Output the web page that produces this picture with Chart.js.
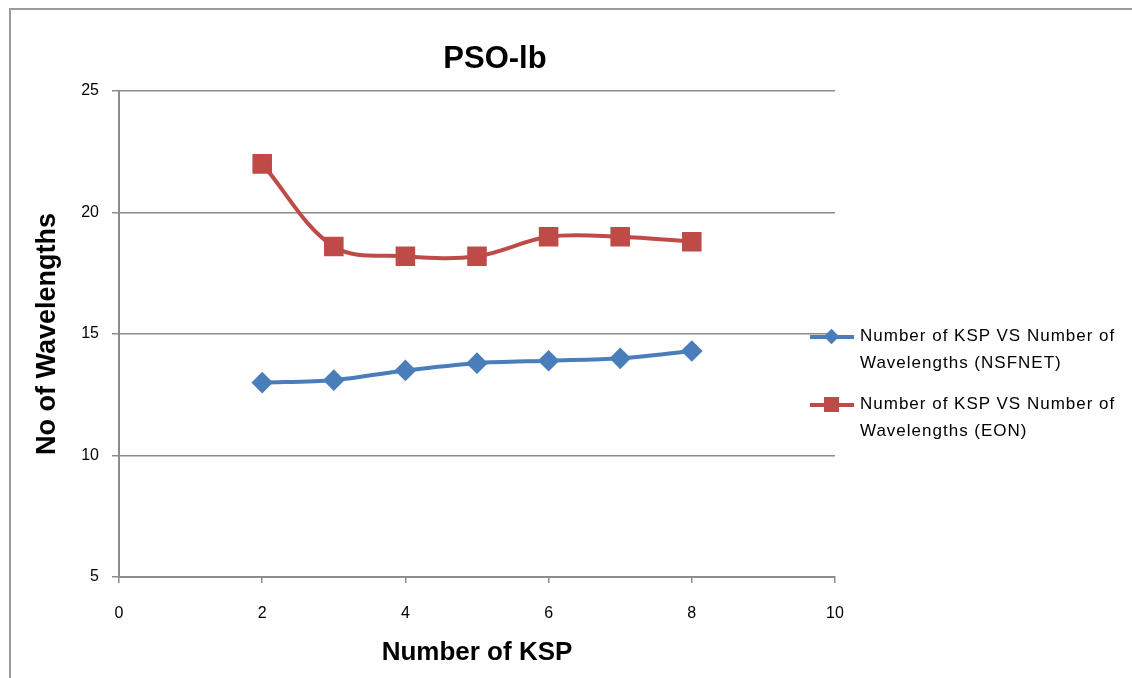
<!DOCTYPE html>
<html>
<head>
<meta charset="utf-8">
<script src="https://cdn.jsdelivr.net/npm/chart.js@4"></script>
<style>
  html, body { margin:0; padding:0; background:#fff; }
  body { width:1132px; height:678px; position:relative; overflow:hidden; font-family:"Liberation Sans", Arial, sans-serif; }
  #frame { position:absolute; left:9px; top:8px; width:1200px; height:800px; border:2px solid #9a9a9a; box-sizing:border-box; }
  #wrap { position:absolute; left:0; top:0; width:1132px; height:678px; }
  #title { position:absolute; left:395px; width:200px; top:38px; text-align:center; font-size:31px; font-weight:bold; color:#000; line-height:40px; }
  #legend { position:absolute; left:810px; top:322px; font-size:17px; color:#000; }
  .item { position:relative; height:68px; }
  .sample { position:absolute; left:0; width:44px; height:4px; top:13px; }
  .txt { position:absolute; left:50px; top:0; line-height:27px; white-space:nowrap; letter-spacing:1px; }
  .mk { position:absolute; }
</style>
</head>
<body>
<div id="frame"></div>
<div id="wrap"><canvas id="c" width="1132" height="678"></canvas></div>
<div id="title"></div>
<div id="legend"></div>
<script>
const xValues = [2, 3, 4, 5, 6, 7, 8];
const nsfnet = [13.0, 13.1, 13.5, 13.8, 13.9, 14.0, 14.3];
const eon = [22.0, 18.6, 18.2, 18.2, 19.0, 19.0, 18.8];
const seriesNames = [
  ["Number of KSP VS Number of", "Wavelengths (NSFNET)"],
  ["Number of KSP VS Number of", "Wavelengths (EON)"]
];
const xTicks = [0, 2, 4, 6, 8, 10];
const yTicks = [5, 10, 15, 20, 25];
const chartTitle = "PSO-lb";
const xTitle = "Number of KSP";
const yTitle = "No of Wavelengths";

const blue = "#4A7EBB", red = "#BE4B48", grid = "#8c8c8c";
const toPts = arr => arr.map((v, i) => ({x: xValues[i], y: v}));

document.getElementById("title").textContent = chartTitle;

new Chart(document.getElementById("c"), {
  type: "line",
  data: {
    datasets: [
      { label: seriesNames[0].join(" "), data: toPts(nsfnet), borderColor: blue, backgroundColor: blue,
        borderWidth: 4, pointStyle: "rectRot", pointRadius: 8, pointHoverRadius: 8, tension: 0.3 },
      { label: seriesNames[1].join(" "), data: toPts(eon), borderColor: red, backgroundColor: red,
        borderWidth: 4, pointStyle: "rect", pointRadius: 11, pointHoverRadius: 11, tension: 0.35 }
    ]
  },
  options: {
    responsive: false,
    animation: false,
    events: [],
    layout: { padding: { left: 31, right: 297, top: 91, bottom: 10 } },
    plugins: {
      legend: { display: false },
      tooltip: { enabled: false },
      title: { display: false }
    },
    scales: {
      x: {
        type: "linear", min: 0, max: 10,
        afterBuildTicks: s => { s.ticks = xTicks.map(v => ({value: v})); },
        afterFit: s => { s.height = 91; },
        ticks: { color: "#000", font: { family: "Liberation Sans", size: 16 }, padding: 21, maxRotation: 0 },
        grid: { drawOnChartArea: false, drawTicks: true, tickLength: 6, color: grid, lineWidth: 1.5 },
        border: { display: true, color: grid, width: 2 },
        title: { display: true, text: xTitle, color: "#000",
          font: { family: "Liberation Sans", size: 26, weight: "bold" }, padding: { top: 0, bottom: 0 } }
      },
      y: {
        type: "linear", min: 5, max: 25,
        afterBuildTicks: s => { s.ticks = yTicks.map(v => ({value: v})); },
        afterFit: s => { s.width = 88; },
        ticks: { color: "#000", font: { family: "Liberation Sans", size: 16 }, padding: 13 },
        grid: { drawOnChartArea: true, drawTicks: true, tickLength: 7, color: grid, lineWidth: 1.5 },
        border: { display: true, color: grid, width: 2 },
        title: { display: true, text: yTitle, color: "#000",
          font: { family: "Liberation Sans", size: 27, weight: "bold" }, padding: 0 }
      }
    }
  }
});

// HTML legend
const leg = document.getElementById("legend");
const legendDefs = [{c: blue, shape: "diamond"}, {c: red, shape: "square"}];
legendDefs.forEach((d, i) => {
  const it = document.createElement("div"); it.className = "item";
  const s = document.createElement("div"); s.className = "sample"; s.style.background = d.c; it.appendChild(s);
  const m = document.createElement("div"); m.className = "mk"; m.style.background = d.c;
  if (d.shape === "diamond") { m.style.width = "11px"; m.style.height = "11px"; m.style.left = "16px"; m.style.top = "9px"; m.style.transform = "rotate(45deg)"; }
  else { m.style.width = "15px"; m.style.height = "15px"; m.style.left = "14px"; m.style.top = "7px"; }
  it.appendChild(m);
  const t = document.createElement("div"); t.className = "txt";
  t.innerHTML = seriesNames[i].join("<br>");
  it.appendChild(t);
  leg.appendChild(it);
});
</script>
</body>
</html>
